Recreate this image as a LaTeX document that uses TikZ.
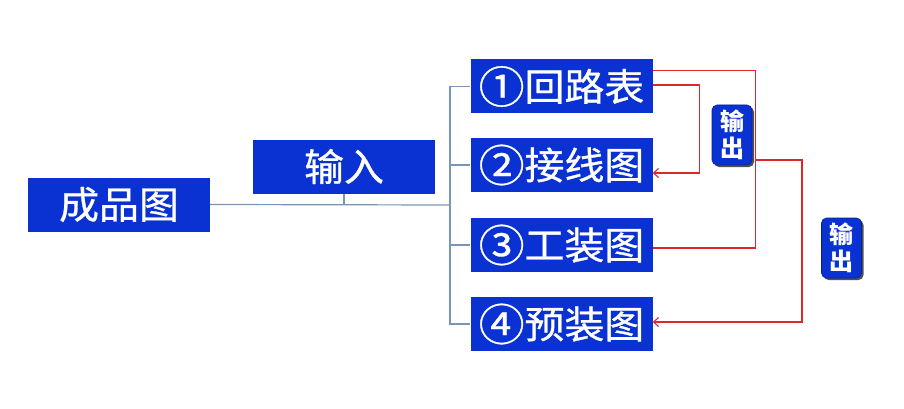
\documentclass[tikz,border=0pt]{standalone}
\usepackage{fontspec}
\setmainfont{Noto Sans CJK SC}
\newfontfamily\boxfont[FakeBold=0.8,FakeStretch=1.05]{Noto Sans CJK SC}
\usetikzlibrary{arrows.meta,shadows}
\definecolor{boxblue}{RGB}{10,50,210}
\definecolor{gline}{RGB}{120,150,180}
\definecolor{rline}{RGB}{220,40,40}
\newcommand{\cnum}[1]{\raisebox{-0.06em}{\scalebox{1.15}{#1}}}
\tikzset{
  bigbox/.style={fill=boxblue, text=white, inner sep=0pt, minimum width=182pt, minimum height=54pt, font=\boxfont\fontsize{38}{38}\selectfont},
  outbox/.style={fill=boxblue, text=white, inner sep=0pt, minimum width=40pt, minimum height=60pt, rounded corners=5pt, align=center, font=\fontsize{24}{27}\selectfont\bfseries, draw=boxblue!70!black, line width=0.6pt, drop shadow={shadow xshift=2pt, shadow yshift=-2pt, fill=black!75, opacity=0.9}},
  gconn/.style={draw=gline, line width=1.2pt},
  rconn/.style={draw=rline, line width=1.1pt},
  rarrow/.style={rconn, -{Straight Barb[length=5pt,width=9pt]}}
}
\begin{document}
\begin{tikzpicture}[x=1pt,y=-1pt]
\useasboundingbox[fill=white] (0,0) rectangle (904,409);
\node[bigbox] (a) at (119,204.5) {成品图};
\node[bigbox] (in) at (344,166.5) {输入};
\node[bigbox] (b1) at (561.5,86.5) {\cnum{①}回路表};
\node[bigbox] (b2) at (561.5,165) {\cnum{②}接线图};
\node[bigbox] (b3) at (561.5,245) {\cnum{③}工装图};
\node[bigbox] (b4) at (561.5,324) {\cnum{④}预装图};
\node[outbox] (o1) at (732,135) {输\\出};
\node[outbox] (o2) at (841.5,248) {输\\出};
\coordinate (j) at (450,205);
\coordinate (r1) at (755,160);
% grey tree
\draw[gconn] (a.east) -- (j);
\draw[gconn] (in.south) -- (in.south |- j);
\draw[gconn] (b1.west) -- (b1.west -| j) -- (b4.west -| j) -- (b4.west);
\draw[gconn] (b2.west) -- (b2.west -| j);
\draw[gconn] (b3.west) -- (b3.west -| j);
% red
\draw[rconn] ([yshift=16pt]b1.east) -- ++(102.5,0) |- ([yshift=-3pt]b3.east);
\draw[rarrow] ([yshift=1.5pt]b1.east) -- ++(47,0) |- ([yshift=-8pt]b2.east);
\draw[rarrow] (r1) -- ++(47,0) |- ([yshift=2pt]b4.east);
\end{tikzpicture}
\end{document}
